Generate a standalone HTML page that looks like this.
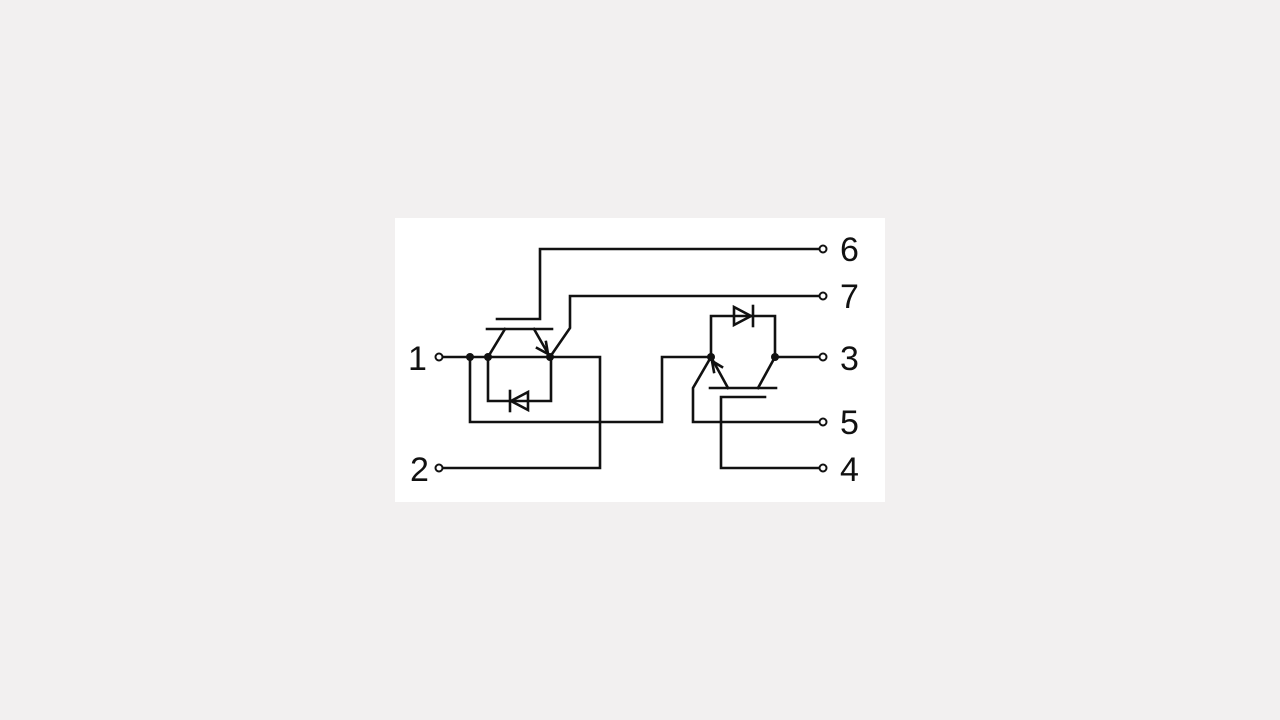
<!DOCTYPE html>
<html><head><style>
html,body{margin:0;padding:0;background:#f2f0f0;width:1280px;height:720px;overflow:hidden}
svg{position:absolute;left:0;top:0}
text{font-family:"Liberation Sans",sans-serif;font-size:34px;fill:#111}
</style></head><body>
<svg width="1280" height="720" viewBox="0 0 1280 720">
<rect x="395" y="218" width="490" height="284" fill="#fff"/>
<g stroke="#111" stroke-width="2.6" fill="none" stroke-linecap="square">
<!-- left IGBT -->
<polyline points="497,319 540,319 540,249 819,249"/>
<line x1="487" y1="329" x2="552" y2="329"/>
<line x1="505" y1="329" x2="488" y2="357"/>
<line x1="534" y1="329" x2="550" y2="357"/>
<polyline points="537,348 548,354 546,342"/>
<polyline points="550,357 570,328 570,296 819,296"/>
<line x1="443" y1="357" x2="550" y2="357"/>
<polyline points="550,357 600,357 600,468 443,468"/>
<polyline points="488,357 488,401 551,401 551,357"/>
<polygon points="528,392 528,410 511,401"/>
<line x1="510" y1="391" x2="510" y2="411"/>
<polyline points="470,357 470,422 662,422 662,357 711,357"/>
<!-- right IGBT -->
<polyline points="711,357 711,316 775,316 775,357"/>
<polygon points="734,307 734,325 751,316"/>
<line x1="753" y1="306" x2="753" y2="326"/>
<line x1="775" y1="357" x2="819" y2="357"/>
<polyline points="711,357 693,388 693,422 819,422"/>
<line x1="711" y1="357" x2="728" y2="388"/>
<polyline points="714,372 712,361 722,367"/>
<line x1="710" y1="388" x2="776" y2="388"/>
<line x1="775" y1="357" x2="758" y2="388"/>
<polyline points="765,397 721,397 721,468 819,468"/>
</g>
<g fill="#111">
<circle cx="470" cy="357" r="4"/><circle cx="488" cy="357" r="4"/><circle cx="550" cy="357" r="4"/>
<circle cx="711" cy="357" r="4"/><circle cx="775" cy="357" r="4"/>
</g>
<g stroke="#111" stroke-width="2" fill="#fff">
<circle cx="439" cy="357" r="3.5"/><circle cx="439" cy="468" r="3.5"/>
<circle cx="823" cy="249" r="3.5"/><circle cx="823" cy="296" r="3.5"/><circle cx="823" cy="357" r="3.5"/>
<circle cx="823" cy="422" r="3.5"/><circle cx="823" cy="468" r="3.5"/>
</g>
<text x="408" y="370">1</text>
<text x="410" y="481">2</text>
<text x="840" y="261">6</text>
<text x="840" y="308">7</text>
<text x="840" y="370">3</text>
<text x="840" y="434">5</text>
<text x="840" y="481">4</text>
</svg>
</body></html>
